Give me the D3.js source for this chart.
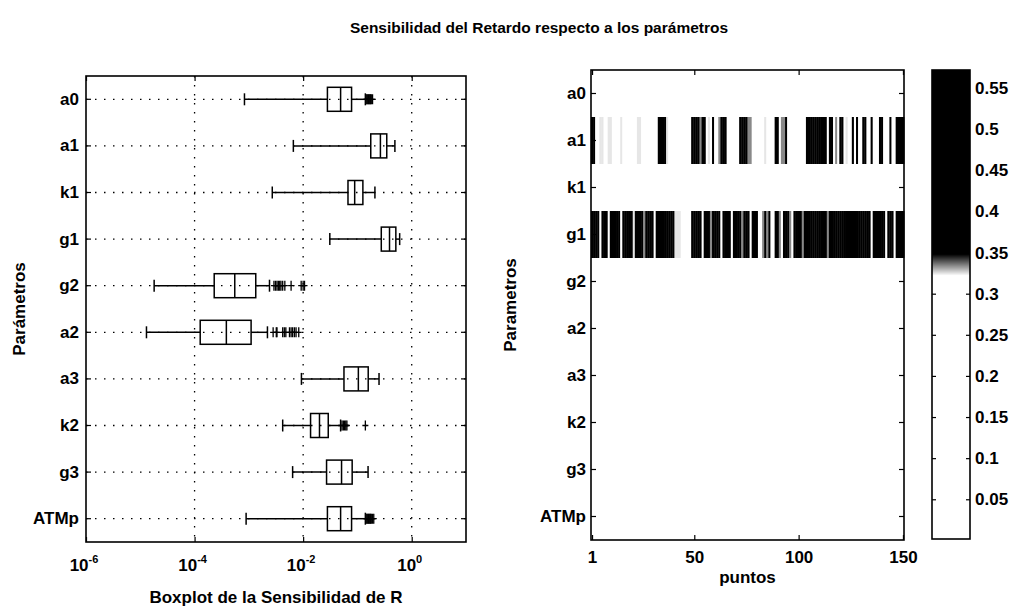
<!DOCTYPE html>
<html>
<head>
<meta charset="utf-8">
<script src="https://cdn.jsdelivr.net/npm/d3@7"></script>
<style>
  body { margin: 0; background: #fff; }
  text { font-family: "Liberation Sans", Arial, sans-serif; fill: #000; }
</style>
</head>
<body>
<svg id="chart" width="1015" height="611"></svg>
<script>
// parameter names (top to bottom)
const params = ["a0", "a1", "k1", "g1", "g2", "a2", "a3", "k2", "g3", "ATMp"];

// boxplot statistics
const whiskerLo = [8.3e-4, 6.6e-3, 2.7e-3, 0.031, 1.8e-5, 1.3e-5, 9.3e-3, 4.2e-3, 6.4e-3, 8.9e-4];
const q1s       = [0.028, 0.176, 0.067, 0.275, 2.3e-4, 1.27e-4, 0.0565, 0.0137, 0.027, 0.028];
const medians   = [0.049, 0.265, 0.089, 0.39, 5.5e-4, 3.85e-4, 0.104, 0.020, 0.051, 0.049];
const q3s       = [0.078, 0.347, 0.126, 0.51, 1.34e-3, 1.1e-3, 0.158, 0.029, 0.080, 0.078];
const whiskerHi = [0.14, 0.49, 0.21, 0.60, 2.4e-3, 2.2e-3, 0.25, 0.049, 0.157, 0.14];
const outliers = [
  [0.145, 0.15, 0.155, 0.16, 0.165, 0.17, 0.175, 0.18, 0.19],
  [],
  [],
  [],
  [2.9e-3, 3.1e-3, 3.3e-3, 3.5e-3, 3.7e-3, 3.9e-3, 4.2e-3, 4.6e-3, 6.0e-3, 9.2e-3, 1.0e-2, 1.06e-2],
  [2.8e-3, 3.2e-3, 3.3e-3, 4.2e-3, 4.5e-3, 4.8e-3, 5.6e-3, 6.0e-3, 6.4e-3, 6.9e-3, 7.4e-3, 8.3e-3],
  [],
  [0.052, 0.055, 0.058, 0.061, 0.064, 0.14],
  [],
  [0.145, 0.15, 0.155, 0.16, 0.165, 0.17, 0.175, 0.18, 0.19, 0.2]
];
const logTicks = [1e-6, 1e-4, 1e-2, 1e0];
const logTickExp = ["-6", "-4", "-2", "0"];

// heat map rows, one char per point (1..150): "." low, "-" light, "+" mid, "#" high
const a0Cells   = ".......... .......... .......... .......... .......... .......... .......... .......... .......... .......... .......... .......... .......... .......... ..........";
const a1Cells   = "##..--..-- ....-..... ..--...... ..####-... ........## ##+##.-.#. .+###..... .####++... ...-....## .++#...... ...####### ###.##.+.# #.-..#.#.. ##..#...## ...#..####";
const k1Cells   = ".......... .......... .......... .......... .......... .......... .......... .......... .......... .......... .......... .......... .......... .......... ..........";
const g1Cells   = "####.###.# ####.##### -####+#### .######### ---.....## ###.###+## ##.####.## ##+###.### ..+#+#..## +.###+.### #+######## ###+###### ########## ####.##### #.###.####";
const g2Cells   = ".......... .......... .......... .......... .......... .......... .......... .......... .......... .......... .......... .......... .......... .......... ..........";
const a2Cells   = ".......... .......... .......... .......... .......... .......... .......... .......... .......... .......... .......... .......... .......... .......... ..........";
const a3Cells   = ".......... .......... .......... .......... .......... .......... .......... .......... .......... .......... .......... .......... .......... .......... ..........";
const k2Cells   = ".......... .......... .......... .......... .......... .......... .......... .......... .......... .......... .......... .......... .......... .......... ..........";
const g3Cells   = ".......... .......... .......... .......... .......... .......... .......... .......... .......... .......... .......... .......... .......... .......... ..........";
const atmpCells = ".......... .......... .......... .......... .......... .......... .......... .......... .......... .......... .......... .......... .......... .......... ..........";
const levelValue = { ".": 0.05, "-": 0.3245, "+": 0.334, "#": 0.46 };
const pointTicks = [1, 50, 100, 150];

// colour bar
const cbRange = [0.0017, 0.572];
const cbTicks = [0.05, 0.1, 0.15, 0.2, 0.25, 0.3, 0.35, 0.4, 0.45, 0.5, 0.55];

const svg = d3.select("#chart");
const font = "'Liberation Sans', Arial, sans-serif";

svg.append("rect").attr("width", 1015).attr("height", 611).attr("fill", "#fff");

function styleAxis(sel) {
  sel.select(".domain").remove();
  sel.selectAll("line").attr("stroke", "#000").attr("stroke-width", 1.2);
  sel.selectAll("text")
    .attr("font-family", font)
    .attr("font-size", 17)
    .attr("font-weight", "bold")
    .attr("fill", "#000");
}

// ---------- left: boxplots ----------
const lb = { left: 86, right: 466, top: 76, bottom: 542 };
const x = d3.scaleLog().domain([1e-6, 10]).range([lb.left, lb.right]);
const y = d3.scaleBand().domain(params).range([lb.top, lb.bottom]);
const yc = p => y(p) + y.bandwidth() / 2;

const leftG = svg.append("g");

leftG.selectAll(".hgrid")
  .data(params)
  .enter()
  .append("line")
  .attr("x1", lb.left).attr("x2", lb.right)
  .attr("y1", yc).attr("y2", yc)
  .attr("stroke", "#000")
  .attr("stroke-width", 1.3)
  .attr("stroke-dasharray", "1.5,7.5");

leftG.selectAll(".vgrid")
  .data(logTicks.slice(1))
  .enter()
  .append("line")
  .attr("x1", d => x(d)).attr("x2", d => x(d))
  .attr("y1", lb.top).attr("y2", lb.bottom)
  .attr("stroke", "#000")
  .attr("stroke-width", 1.3)
  .attr("stroke-dasharray", "1.5,7.5");

const stats = params.map((p, i) => ({
  p: p,
  lo: whiskerLo[i], q1: q1s[i], med: medians[i], q3: q3s[i], hi: whiskerHi[i],
  out: outliers[i]
}));

const boxH = 24;
const capH = 12;

const rows = leftG.selectAll(".bp")
  .data(stats)
  .enter()
  .append("g")
  .attr("class", "bp")
  .attr("stroke", "#000")
  .attr("stroke-width", 1.5)
  .attr("fill", "none");

rows.append("line")
  .attr("x1", d => x(d.lo)).attr("x2", d => x(d.q1))
  .attr("y1", d => yc(d.p)).attr("y2", d => yc(d.p));
rows.append("line")
  .attr("x1", d => x(d.q3)).attr("x2", d => x(d.hi))
  .attr("y1", d => yc(d.p)).attr("y2", d => yc(d.p));
rows.append("line")
  .attr("x1", d => x(d.lo)).attr("x2", d => x(d.lo))
  .attr("y1", d => yc(d.p) - capH / 2).attr("y2", d => yc(d.p) + capH / 2);
rows.append("line")
  .attr("x1", d => x(d.hi)).attr("x2", d => x(d.hi))
  .attr("y1", d => yc(d.p) - capH / 2).attr("y2", d => yc(d.p) + capH / 2);
rows.append("rect")
  .attr("x", d => x(d.q1))
  .attr("width", d => x(d.q3) - x(d.q1))
  .attr("y", d => yc(d.p) - boxH / 2)
  .attr("height", boxH);
rows.append("line")
  .attr("x1", d => x(d.med)).attr("x2", d => x(d.med))
  .attr("y1", d => yc(d.p) - boxH / 2).attr("y2", d => yc(d.p) + boxH / 2);

rows.selectAll(".out")
  .data(d => d.out.map(v => ({ v: v, p: d.p })))
  .enter()
  .append("path")
  .attr("stroke-width", 1.3)
  .attr("d", d => {
    const px = x(d.v), py = yc(d.p);
    return `M${px - 3},${py}H${px + 3}M${px},${py - 5}V${py + 5}`;
  });

leftG.append("g")
  .attr("transform", `translate(${lb.left},0)`)
  .call(d3.axisLeft(y).tickSize(-5).tickPadding(7))
  .call(styleAxis);
leftG.append("g")
  .attr("transform", `translate(${lb.right},0)`)
  .call(d3.axisRight(y).tickSize(-5).tickFormat(""))
  .call(styleAxis);
leftG.append("g")
  .attr("transform", `translate(0,${lb.bottom})`)
  .call(d3.axisBottom(x).tickValues(logTicks).tickSize(-5).tickFormat(""))
  .call(styleAxis);
leftG.append("g")
  .attr("transform", `translate(0,${lb.top})`)
  .call(d3.axisTop(x).tickValues(logTicks).tickSize(-5).tickFormat(""))
  .call(styleAxis);

const xl = leftG.selectAll(".xlab")
  .data(logTicks)
  .enter()
  .append("text")
  .attr("x", d => x(d) - 2)
  .attr("y", lb.bottom + 29)
  .attr("text-anchor", "middle")
  .attr("font-size", 17)
  .attr("font-weight", "bold")
  .text("10");
xl.append("tspan")
  .attr("dy", -8)
  .attr("font-size", 11)
  .text((d, i) => logTickExp[i]);

leftG.append("rect")
  .attr("x", lb.left).attr("y", lb.top)
  .attr("width", lb.right - lb.left).attr("height", lb.bottom - lb.top)
  .attr("fill", "none").attr("stroke", "#000").attr("stroke-width", 1.6);

svg.append("text")
  .attr("x", (lb.left + lb.right) / 2)
  .attr("y", 603)
  .attr("text-anchor", "middle")
  .attr("font-size", 17)
  .attr("font-weight", "bold")
  .text("Boxplot de la Sensibilidad de R");

svg.append("text")
  .attr("transform", `translate(25,${(lb.top + lb.bottom) / 2}) rotate(-90)`)
  .attr("text-anchor", "middle")
  .attr("font-size", 17)
  .attr("font-weight", "bold")
  .text("Parámetros");

// ---------- right: heat map ----------
const hb = { left: 591, right: 904, top: 70, bottom: 540 };
const hx = d3.scaleLinear().domain([0.5, 150.5]).range([hb.left, hb.right]);
const hy = d3.scaleBand().domain(params).range([hb.top, hb.bottom]);
const color = d3.scaleLinear().domain([0.322, 0.348]).range(["#ffffff", "#000000"]).clamp(true);

const heatRows = [a0Cells, a1Cells, k1Cells, g1Cells, g2Cells, a2Cells, a3Cells, k2Cells, g3Cells, atmpCells];
const cells = [];
heatRows.forEach((s, r) => {
  s.replace(/ /g, "").split("").forEach((c, j) => {
    cells.push({ p: params[r], point: j + 1, value: levelValue[c] });
  });
});

const rightG = svg.append("g");
const cw = hx(1.5) - hx(0.5);

rightG.selectAll(".cell")
  .data(cells)
  .enter()
  .append("rect")
  .attr("x", d => hx(d.point - 0.5))
  .attr("y", d => hy(d.p))
  .attr("width", cw + 0.4)
  .attr("height", hy.bandwidth())
  .attr("fill", d => color(d.value));

rightG.append("g")
  .attr("transform", `translate(${hb.left},0)`)
  .call(d3.axisLeft(hy).tickSize(-5).tickPadding(5))
  .call(styleAxis);
rightG.append("g")
  .attr("transform", `translate(${hb.right},0)`)
  .call(d3.axisRight(hy).tickSize(-5).tickFormat(""))
  .call(styleAxis);
rightG.append("g")
  .attr("transform", `translate(0,${hb.bottom})`)
  .call(d3.axisBottom(hx).tickValues(pointTicks).tickSize(-5).tickPadding(11))
  .call(styleAxis);
rightG.append("g")
  .attr("transform", `translate(0,${hb.top})`)
  .call(d3.axisTop(hx).tickValues(pointTicks).tickSize(-5).tickFormat(""))
  .call(styleAxis);

rightG.append("rect")
  .attr("x", hb.left).attr("y", hb.top)
  .attr("width", hb.right - hb.left).attr("height", hb.bottom - hb.top)
  .attr("fill", "none").attr("stroke", "#000").attr("stroke-width", 1.6);

svg.append("text")
  .attr("x", (hb.left + hb.right) / 2)
  .attr("y", 583)
  .attr("text-anchor", "middle")
  .attr("font-size", 17)
  .attr("font-weight", "bold")
  .text("puntos");

svg.append("text")
  .attr("transform", `translate(516,${(hb.top + hb.bottom) / 2}) rotate(-90)`)
  .attr("text-anchor", "middle")
  .attr("font-size", 17)
  .attr("font-weight", "bold")
  .text("Parametros");

// ---------- colour bar ----------
const cb = { left: 932, right: 970, top: 70, bottom: 539 };
const cy = d3.scaleLinear().domain(cbRange).range([cb.bottom, cb.top]);
const cbG = svg.append("g");

cbG.selectAll(".cbcell")
  .data(d3.range(cb.top, cb.bottom))
  .enter()
  .append("rect")
  .attr("x", cb.left)
  .attr("y", d => d)
  .attr("width", cb.right - cb.left)
  .attr("height", 1.2)
  .attr("fill", d => color(cy.invert(d + 0.5)));

cbG.append("g")
  .attr("transform", `translate(${cb.right},0)`)
  .call(d3.axisRight(cy).tickValues(cbTicks).tickSize(-4).tickPadding(5).tickFormat(d3.format("~g")))
  .call(styleAxis);
cbG.append("g")
  .attr("transform", `translate(${cb.left},0)`)
  .call(d3.axisLeft(cy).tickValues(cbTicks).tickSize(-4).tickFormat(""))
  .call(styleAxis);

cbG.append("rect")
  .attr("x", cb.left).attr("y", cb.top)
  .attr("width", cb.right - cb.left).attr("height", cb.bottom - cb.top)
  .attr("fill", "none").attr("stroke", "#000").attr("stroke-width", 1.6);

// ---------- title ----------
svg.append("text")
  .attr("x", 539)
  .attr("y", 33)
  .attr("text-anchor", "middle")
  .attr("font-size", 15.5)
  .attr("font-weight", "bold")
  .text("Sensibilidad del Retardo respecto a los parámetros");
</script>
</body>
</html>
